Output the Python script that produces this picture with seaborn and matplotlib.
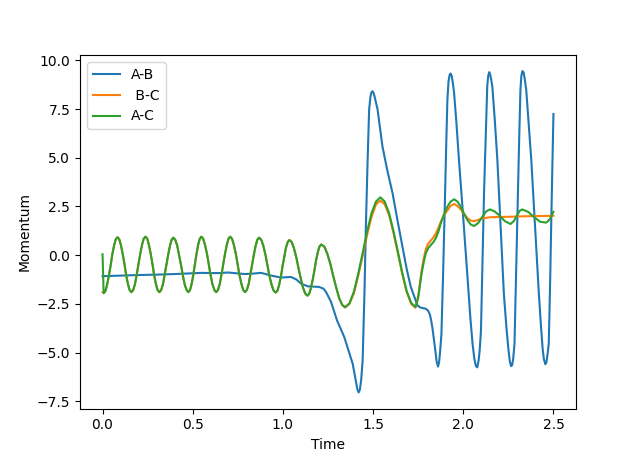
import matplotlib
matplotlib.use("Agg")
import matplotlib.pyplot as plt
import seaborn as sns
import pandas as pd

# shared fast oscillation (B-C and A-C lie on top of each other until ~1.35)
osc_t = [0.006, 0.016, 0.025, 0.035, 0.045, 0.054, 0.064, 0.073, 0.083,
         0.093, 0.102, 0.112, 0.122, 0.131, 0.141, 0.150, 0.160,
         0.170, 0.180, 0.189, 0.199, 0.209, 0.219, 0.228, 0.238,
         0.248, 0.257, 0.267, 0.277, 0.286, 0.296, 0.305, 0.315,
         0.325, 0.335, 0.344, 0.354, 0.364, 0.374, 0.383, 0.393,
         0.403, 0.414, 0.424, 0.435, 0.445, 0.455, 0.466, 0.476,
         0.485, 0.494, 0.503, 0.512, 0.521, 0.530, 0.539, 0.548,
         0.558, 0.568, 0.579, 0.589, 0.599, 0.609, 0.620, 0.630,
         0.640, 0.650, 0.659, 0.669, 0.679, 0.689, 0.698, 0.708,
         0.718, 0.728, 0.739, 0.749, 0.759, 0.770, 0.780, 0.790,
         0.800, 0.810, 0.819, 0.829, 0.839, 0.849, 0.858, 0.868,
         0.880, 0.891, 0.903, 0.914, 0.925, 0.937, 0.948, 0.960,
         0.970, 0.979, 0.989, 0.998, 1.008, 1.017, 1.027, 1.036,
         1.049, 1.061, 1.074, 1.086, 1.099, 1.111, 1.124, 1.136,
         1.146, 1.155, 1.165, 1.175, 1.184, 1.194, 1.203, 1.213,
         1.230, 1.246, 1.263, 1.279, 1.296, 1.312, 1.329, 1.345]
osc_v = [-1.95, -1.84, -1.53, -1.06, -0.52, 0.03, 0.50, 0.81, 0.92,
         0.81, 0.51, 0.05, -0.49, -1.03, -1.49, -1.79, -1.9,
         -1.79, -1.48, -1.02, -0.47, 0.07, 0.53, 0.84, 0.95,
         0.84, 0.53, 0.07, -0.47, -1.02, -1.48, -1.79, -1.9,
         -1.79, -1.49, -1.03, -0.5, 0.03, 0.49, 0.79, 0.9,
         0.79, 0.49, 0.03, -0.5, -1.03, -1.49, -1.79, -1.9,
         -1.79, -1.48, -1.02, -0.47, 0.07, 0.53, 0.84, 0.95,
         0.84, 0.53, 0.07, -0.47, -1.02, -1.48, -1.79, -1.9,
         -1.79, -1.48, -1.02, -0.47, 0.07, 0.53, 0.84, 0.95,
         0.84, 0.53, 0.07, -0.47, -1.02, -1.48, -1.79, -1.9,
         -1.79, -1.49, -1.03, -0.5, 0.03, 0.49, 0.79, 0.9,
         0.79, 0.49, 0.03, -0.51, -1.05, -1.51, -1.81, -1.92,
         -1.82, -1.53, -1.09, -0.57, -0.05, 0.39, 0.68, 0.78,
         0.67, 0.36, -0.10, -0.65, -1.20, -1.66, -1.97, -2.08,
         -1.98, -1.70, -1.27, -0.77, -0.26, 0.17, 0.45, 0.55,
         0.43, 0.08, -0.45, -1.07, -1.68, -2.21, -2.56, -2.68]

# A-C after the split
ac_t = [1.369, 1.394, 1.418, 1.443, 1.467, 1.491, 1.516, 1.54,
        1.564, 1.589, 1.613, 1.638, 1.662, 1.686, 1.711, 1.735,
        1.75, 1.769, 1.78, 1.792, 1.805, 1.82, 1.835, 1.847, 1.862, 1.875,
        1.893, 1.912, 1.93, 1.949, 1.968, 1.986, 2.005, 2.023, 2.042, 2.06,
        2.083, 2.106, 2.127, 2.148, 2.173, 2.198, 2.23, 2.262, 2.28, 2.299,
        2.313, 2.327, 2.36, 2.391, 2.425, 2.46, 2.48, 2.5]
ac_v = [-2.47, -1.86, -0.93, 0.15, 1.22, 2.15, 2.75, 2.97,
        2.76, 2.15, 1.23, 0.16, -0.92, -1.84, -2.45, -2.66,
        -2.2, -0.94, -0.4, 0.09, 0.35, 0.52, 0.68, 0.86, 1.2, 1.63,
        2.1, 2.49, 2.75, 2.87, 2.75, 2.49, 2.12, 1.8, 1.57, 1.5,
        1.65, 1.97, 2.25, 2.35, 2.25, 2.06, 1.75, 1.6, 1.75, 2.06,
        2.28, 2.35, 2.22, 1.97, 1.72, 1.67, 1.85, 2.23]

# B-C after the split
bc_t = [1.369, 1.394, 1.418, 1.443, 1.467, 1.491, 1.516, 1.54,
        1.564, 1.589, 1.613, 1.638, 1.662, 1.686, 1.711, 1.735,
        1.75, 1.769, 1.78, 1.792, 1.805, 1.82, 1.835, 1.847, 1.862, 1.875,
        1.893, 1.912, 1.93, 1.95, 1.968, 1.986, 2.005, 2.023, 2.042, 2.06,
        2.08, 2.1, 2.15, 2.25, 2.35, 2.5]
bc_v = [-2.5, -1.95, -1.05, 0.0, 1.05, 1.95, 2.6, 2.8,
        2.62, 2.05, 1.15, 0.08, -0.97, -1.88, -2.5, -2.7,
        -2.1, -0.8, -0.2, 0.3, 0.58, 0.75, 0.92, 1.1, 1.4, 1.7,
        2.05, 2.3, 2.53, 2.63, 2.52, 2.35, 2.1, 1.9, 1.78, 1.75,
        1.8, 1.88, 1.95, 1.97, 2.0, 2.02]

# A-B
ab_t = [0.0, 0.1, 0.2, 0.3, 0.4, 0.5, 0.55, 0.6, 0.65, 0.695, 0.74, 0.787,
        0.83, 0.88, 0.935, 0.99, 1.045, 1.075, 1.1, 1.138, 1.2, 1.225, 1.239,
        1.267, 1.3, 1.34, 1.387, 1.405, 1.413, 1.42, 1.427, 1.434, 1.442, 1.452,
        1.46, 1.47, 1.478, 1.485, 1.49, 1.497, 1.504, 1.512, 1.525, 1.552, 1.58,
        1.608, 1.635, 1.663, 1.686, 1.709, 1.746, 1.76, 1.775, 1.792, 1.805,
        1.815, 1.822, 1.83, 1.838, 1.845, 1.852, 1.86, 1.866, 1.872, 1.879,
        1.888, 1.897, 1.905, 1.912, 1.918, 1.924, 1.93, 1.936, 1.942, 1.949,
        1.962, 1.976, 2.0, 2.023, 2.04, 2.052, 2.062, 2.07, 2.078, 2.085,
        2.091, 2.098, 2.105, 2.115, 2.125, 2.133, 2.138, 2.144, 2.15, 2.156,
        2.161, 2.175, 2.189, 2.207, 2.225, 2.24, 2.25, 2.258, 2.265, 2.271,
        2.277, 2.284, 2.293, 2.303, 2.31, 2.317, 2.322, 2.328, 2.334, 2.34,
        2.349, 2.362, 2.377, 2.398, 2.419, 2.432, 2.44, 2.447, 2.455, 2.461,
        2.467, 2.474, 2.482, 2.489, 2.495, 2.5]
ab_v = [-1.08, -1.05, -1.02, -1.0, -0.97, -0.93, -0.91, -0.92, -0.92, -0.89, -0.93, -0.97,
        -0.95, -0.91, -1.05, -1.15, -1.12, -1.25, -1.46, -1.6, -1.63, -1.72, -1.89,
        -2.4, -3.35, -4.2, -5.58, -6.5, -6.9, -7.05, -6.9, -6.4, -5.41, -2.0,
        1.46, 5.0, 7.47, 8.1, 8.35, 8.42, 8.3, 8.0, 7.47, 5.58, 4.3,
        3.18, 1.8, 0.43, -0.7, -1.63, -2.58, -2.68, -2.72, -2.75, -2.85,
        -3.05, -3.35, -3.8, -4.38, -4.9, -5.45, -5.72, -5.5, -4.9, -4.04,
        -1.0, 2.32, 5.5, 7.99, 8.9, 9.25, 9.33, 9.2, 8.85, 8.34,
        6.8, 4.9, 1.9, -1.12, -3.3, -4.6, -5.35, -5.7, -5.76, -5.4,
        -4.9, -3.9, -1.0, 3.18, 6.3, 8.68, 9.2, 9.4, 9.25, 8.95,
        8.68, 6.9, 4.9, 1.5, -1.97, -3.8, -4.8, -5.45, -5.7, -5.65,
        -5.3, -4.55, -1.0, 3.18, 6.0, 8.5, 9.2, 9.45, 9.4, 9.1,
        8.5, 6.8, 4.9, 1.5, -1.97, -3.8, -4.8, -5.35, -5.6, -5.5,
        -5.1, -4.55, -1.2, 2.32, 5.0, 7.25]

ab = pd.DataFrame({"Time": ab_t, "Momentum": ab_v})
bc = pd.DataFrame({"Time": [0.0] + osc_t + bc_t, "Momentum": [-1.9] + osc_v + bc_v})
ac = pd.DataFrame({"Time": [0.0] + osc_t + ac_t, "Momentum": [0.05] + osc_v + ac_v})

fig, ax = plt.subplots(figsize=(6.4, 4.59), dpi=100)
sns.lineplot(data=ab, x="Time", y="Momentum", ax=ax, label="A-B", color="#1f77b4", sort=False)
sns.lineplot(data=bc, x="Time", y="Momentum", ax=ax, label=" B-C", color="#ff7f0e", sort=False)
sns.lineplot(data=ac, x="Time", y="Momentum", ax=ax, label="A-C", color="#2ca02c", sort=False)
ax.legend(loc="upper left")
fig.savefig("out.png", dpi=100)
